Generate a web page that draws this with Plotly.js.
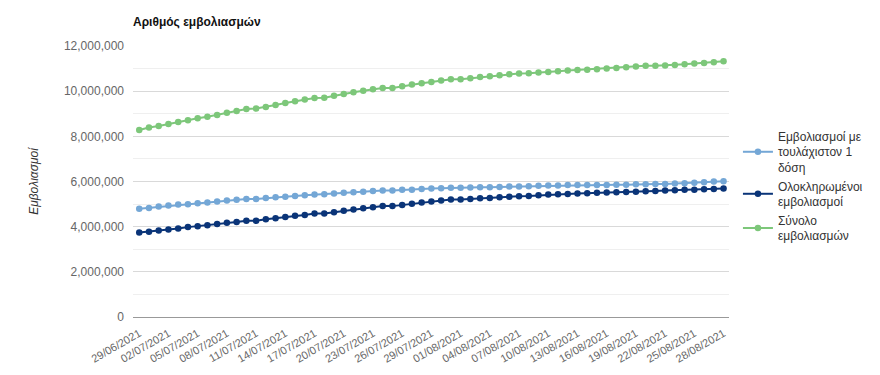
<!DOCTYPE html>
<html>
<head>
<meta charset="utf-8">
<script src="https://cdn.plot.ly/plotly-3.0.1.min.js"></script>
<style>html,body{margin:0;padding:0;background:#fff;}#chart{width:880px;height:375px;}</style>
</head>
<body>
<div id="chart"></div>
<script>
const dates = [
"29/06/2021","30/06/2021","01/07/2021","02/07/2021","03/07/2021","04/07/2021","05/07/2021","06/07/2021","07/07/2021","08/07/2021",
"09/07/2021","10/07/2021","11/07/2021","12/07/2021","13/07/2021","14/07/2021","15/07/2021","16/07/2021","17/07/2021","18/07/2021",
"19/07/2021","20/07/2021","21/07/2021","22/07/2021","23/07/2021","24/07/2021","25/07/2021","26/07/2021","27/07/2021","28/07/2021",
"29/07/2021","30/07/2021","31/07/2021","01/08/2021","02/08/2021","03/08/2021","04/08/2021","05/08/2021","06/08/2021","07/08/2021",
"08/08/2021","09/08/2021","10/08/2021","11/08/2021","12/08/2021","13/08/2021","14/08/2021","15/08/2021","16/08/2021","17/08/2021",
"18/08/2021","19/08/2021","20/08/2021","21/08/2021","22/08/2021","23/08/2021","24/08/2021","25/08/2021","26/08/2021","27/08/2021",
"28/08/2021"];

const atLeastOneDose = [
4790000,4830000,4890000,4940000,4980000,4990000,5040000,5070000,5110000,5160000,
5190000,5230000,5230000,5270000,5300000,5330000,5360000,5390000,5420000,5440000,
5470000,5500000,5520000,5550000,5580000,5600000,5600000,5630000,5640000,5670000,
5690000,5700000,5720000,5720000,5730000,5750000,5750000,5760000,5780000,5780000,
5790000,5810000,5820000,5820000,5840000,5840000,5840000,5850000,5850000,5860000,
5860000,5880000,5880000,5890000,5890000,5910000,5920000,5950000,5970000,6000000,
6010000];

const fullyVaccinated = [
3740000,3780000,3830000,3870000,3920000,3980000,4020000,4060000,4120000,4170000,
4210000,4260000,4260000,4330000,4370000,4430000,4480000,4520000,4580000,4580000,
4640000,4700000,4760000,4820000,4860000,4910000,4910000,4960000,5020000,5070000,
5110000,5160000,5200000,5200000,5230000,5260000,5270000,5300000,5330000,5350000,
5360000,5390000,5420000,5440000,5450000,5470000,5480000,5500000,5510000,5520000,
5540000,5550000,5570000,5580000,5600000,5610000,5630000,5640000,5660000,5670000,
5690000];

const totalVaccinations = [
8280000,8390000,8460000,8550000,8640000,8710000,8800000,8870000,8950000,9040000,
9120000,9210000,9230000,9300000,9390000,9480000,9550000,9630000,9700000,9710000,
9800000,9880000,9950000,10020000,10080000,10140000,10140000,10220000,10290000,10350000,
10410000,10470000,10530000,10530000,10570000,10630000,10660000,10700000,10750000,10780000,
10790000,10830000,10850000,10880000,10910000,10940000,10950000,10970000,11000000,11030000,
11060000,11090000,11120000,11130000,11140000,11160000,11190000,11220000,11250000,11280000,
11320000];

const seriesNames = ["Εμβολιασμοί με<br>τουλάχιστον 1<br>δόση", "Ολοκληρωμένοι<br>εμβολιασμοί", "Σύνολο<br>εμβολιασμών"];
const seriesColors = ["#74a7d6", "#0a3478", "#7dc77a"];
const seriesValues = [atLeastOneDose, fullyVaccinated, totalVaccinations];

const traces = seriesValues.map((vals, i) => ({
  type: "scatter",
  mode: "lines+markers",
  x: dates,
  y: vals,
  name: seriesNames[i],
  line: {color: seriesColors[i], width: 2},
  marker: {color: seriesColors[i], size: 6.5},
  hoverinfo: "x+y"
}));

const layout = {
  width: 880, height: 375,
  margin: {l: 133, r: 145, t: 46, b: 58},
  paper_bgcolor: "#fff", plot_bgcolor: "#fff",
  font: {family: "Liberation Sans, Arial, sans-serif", size: 12, color: "#666"},
  title: {text: "<b>Αριθμός εμβολιασμών</b>", x: 133/880, xanchor: "left", y: 1 - 22/375, yanchor: "middle",
          font: {family: "Liberation Sans, Arial, sans-serif", size: 12, color: "#111"}},
  xaxis: {
    type: "category",
    range: [-0.64, 60.56],
    tickmode: "linear", tick0: 0, dtick: 3,
    tickangle: -30,
    tickfont: {size: 11, color: "#666"},
    ticklabelstandoff: 5,
    showgrid: false,
    showline: true, linecolor: "#999", linewidth: 1,
    ticks: "", zeroline: false
  },
  yaxis: {
    range: [0, 12000000],
    tickmode: "linear", tick0: 0, dtick: 2000000,
    tickformat: ",d",
    tickfont: {size: 12, color: "#666"},
    gridcolor: "#d9d9d9", gridwidth: 1,
    minor: {dtick: 1000000, showgrid: true, gridcolor: "#efefef", gridwidth: 1},
    zeroline: false,
    ticklabelstandoff: 8,
    title: {text: "<i>Εμβολιασμοί</i>", standoff: 22, font: {size: 12, color: "#333"}}
  },
  legend: {
    x: 1.015, xanchor: "left", y: 0.72, yanchor: "top",
    font: {size: 12, color: "#333"},
    itemwidth: 30,
    tracegroupgap: 2,
    bgcolor: "rgba(0,0,0,0)"
  },
  showlegend: true
};

Plotly.newPlot("chart", traces, layout, {displayModeBar: false, staticPlot: true});
</script>
</body>
</html>
